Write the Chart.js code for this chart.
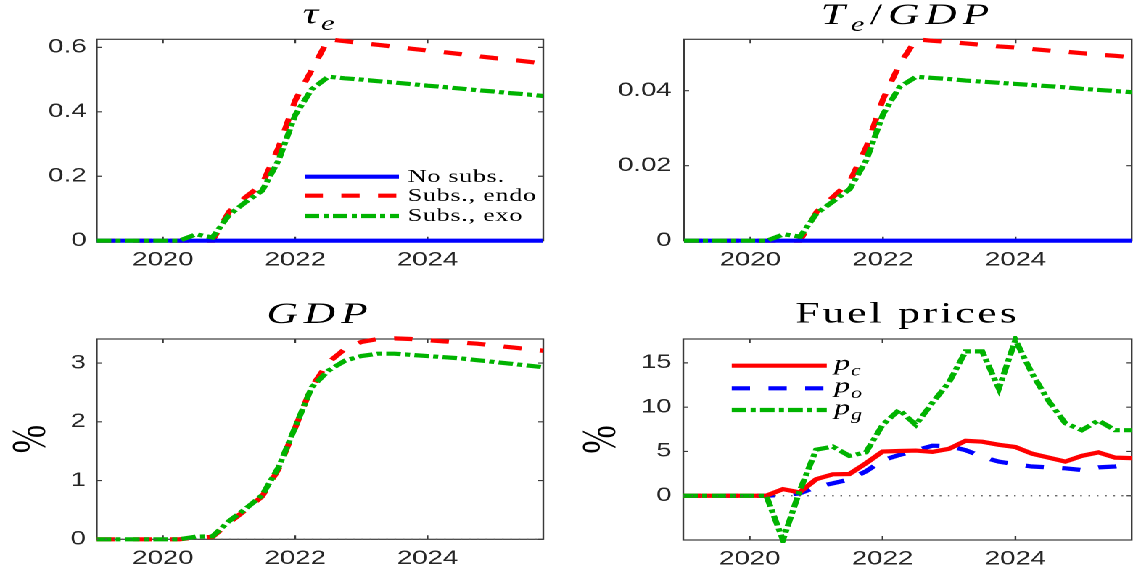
<!DOCTYPE html>
<html>
<head>
<meta charset="utf-8">
<script src="https://cdn.jsdelivr.net/npm/chart.js@4.4.1/dist/chart.umd.min.js"></script>
<style>
  html, body { margin: 0; padding: 0; background: #fff; overflow: hidden; }
  /* the figure is laid out narrow and stretched sideways, like the source image */
  #fig { position: absolute; left: 0; top: 0; width: 781px; height: 571px;
         transform: scaleX(1.4507); transform-origin: 0 0; }
  #fig canvas { position: absolute; }
</style>
</head>
<body>
<div id="fig">
  <canvas id="tauChart" width="390" height="285" style="left:0;top:0"></canvas>
  <canvas id="teChart" width="391" height="285" style="left:390px;top:0"></canvas>
  <canvas id="gdpChart" width="390" height="286" style="left:0;top:285px"></canvas>
  <canvas id="fuelChart" width="391" height="286" style="left:390px;top:285px"></canvas>
</div>
<script>
// quarterly dates, 2019Q1 .. 2025Q4
const quarters = [2019, 2019.25, 2019.5, 2019.75, 2020, 2020.25, 2020.5, 2020.75,
    2021, 2021.25, 2021.5, 2021.75, 2022, 2022.25, 2022.5, 2022.75,
    2023, 2023.25, 2023.5, 2023.75, 2024, 2024.25, 2024.5, 2024.75,
    2025, 2025.25, 2025.5, 2025.75];
const xTicks = [2020, 2022, 2024];

// tau_e
const tauNoSubs = [0,0,0,0,0,0,0,0,0,0,0,0,0,0,0,0,0,0,0,0,0,0,0,0,0,0,0,0];
const tauEndo = [0,0,0,0,0,0,0,0, 0.09,0.135,0.175,0.29,0.435,0.53,0.625,0.619,
    0.613,0.608,0.602,0.596,0.590,0.585,0.579,0.573,0.567,0.562,0.556,0.550];
const tauExo = [0,0,0,0,0,0,0.02,0.01, 0.08,0.12,0.155,0.25,0.39,0.47,0.509,0.504,
    0.500,0.495,0.491,0.486,0.481,0.477,0.472,0.467,0.463,0.458,0.454,0.449];
const tauTicks = [0, 0.2, 0.4, 0.6];

// T_e / GDP
const teNoSubs = [0,0,0,0,0,0,0,0,0,0,0,0,0,0,0,0,0,0,0,0,0,0,0,0,0,0,0,0];
const teEndo = [0,0,0,0,0,0,0,0, 0.0077,0.0117,0.0158,0.025,0.0377,0.047,0.0537,0.0533,
    0.0530,0.0526,0.0522,0.0518,0.0515,0.0511,0.0507,0.0504,0.0500,0.0496,0.0493,0.0489];
const teExo = [0,0,0,0,0,0,0.0017,0.0011, 0.0073,0.0105,0.0138,0.0215,0.0337,0.041,0.0437,0.0434,
    0.0431,0.0427,0.0424,0.0421,0.0418,0.0415,0.0412,0.0409,0.0405,0.0402,0.0399,0.0396];
const teTicks = [0, 0.02, 0.04];

// GDP, %
const gdpEndo = [0,0,0,0,0,0,0.03,0.04, 0.28,0.50,0.73,1.2,1.9,2.6,3.01,3.24,
    3.36,3.41,3.42,3.41,3.39,3.37,3.35,3.33,3.30,3.27,3.24,3.21];
const gdpExo = [0,0,0,0,0,0,0.045,0.05, 0.31,0.52,0.75,1.23,1.91,2.59,2.87,3.04,
    3.12,3.16,3.16,3.14,3.12,3.10,3.08,3.05,3.02,2.99,2.96,2.93];
const gdpTicks = [0, 1, 2, 3];

// fuel prices, %
const pc = [0,0,0,0,0,0,0.75,0.38, 1.86,2.42,2.45,3.67,4.99,5.05,5.1,4.95,
    5.3,6.2,6.1,5.75,5.5,4.75,4.3,3.85,4.5,4.9,4.3,4.25];
const po = [0,0,0,0,0,0,0.1,0.25, 1.0,1.4,1.85,2.75,4.0,4.6,5.1,5.65,
    5.6,5.15,4.4,3.85,3.55,3.3,3.2,3.1,2.9,3.2,3.3,3.5];
const pg = [0,0,0,0,0,0,-5.0,0.5, 5.2,5.55,4.5,4.9,8.0,9.7,8.0,10.5,
    12.8,16.3,16.3,12.1,17.6,13.8,10.7,8.2,7.4,8.5,7.4,7.4];
const fuelTicks = [0, 5, 10, 15];

const zeroLine = [0,0,0,0,0,0,0,0,0,0,0,0,0,0,0,0,0,0,0,0,0,0,0,0,0,0,0,0];

const subsLabels = ['No subs.', 'Subs., endo', 'Subs., exo'];

const RED = '#ff0000', BLUE = '#0000ff', GREEN = '#00b300';
const AXIS = '#3a3a3a', TEXT = '#262626';
const SOLID = [], DASHED = [12.6, 12.7], DASHDOT = [10, 3, 3.5, 3];
const LINE_W = 4.2;

function series(label, values, color, dash, order, width) {
    return {
        label: label,
        data: quarters.map((q, i) => ({ x: q, y: values[i] })),
        borderColor: color,
        borderWidth: width || LINE_W,
        borderDash: dash,
        borderCapStyle: 'butt',
        pointRadius: 0,
        tension: 0,
        fill: false,
        clip: 3,
        order: order
    };
}

// draws a run of text pieces (italic / subscript) centred on cx
function drawRich(ctx, parts, cx, baseline, size, spacing, align) {
    const fontOf = p => (p.it ? 'italic ' : '') + (p.sub ? size * 0.7 : size) + 'px "Liberation Serif"';
    ctx.letterSpacing = spacing + 'px';
    let w = 0;
    parts.forEach(p => { ctx.font = fontOf(p); w += ctx.measureText(p.t).width; });
    let x = align === 'left' ? cx : cx - w / 2;
    ctx.textAlign = 'left';
    ctx.textBaseline = 'alphabetic';
    parts.forEach(p => {
        ctx.font = fontOf(p);
        ctx.fillText(p.t, x, baseline + (p.sub ? size * 0.24 : 0));
        x += ctx.measureText(p.t).width;
    });
    ctx.letterSpacing = '0px';
}

const panelDecor = {
    id: 'panelDecor',
    beforeDatasetsDraw(chart) {
        const { ctx, chartArea: a, scales: { x, y } } = chart;
        ctx.save();
        ctx.strokeStyle = AXIS;
        ctx.lineWidth = 1.2;
        ctx.strokeRect(a.left, a.top, a.width, a.height);
        ctx.beginPath();
        x.ticks.forEach(t => {
            const px = x.getPixelForValue(t.value);
            ctx.moveTo(px, a.bottom); ctx.lineTo(px, a.bottom - 4);
            ctx.moveTo(px, a.top); ctx.lineTo(px, a.top + 4);
        });
        y.ticks.forEach(t => {
            const py = y.getPixelForValue(t.value);
            ctx.moveTo(a.left, py); ctx.lineTo(a.left + 3.5, py);
            ctx.moveTo(a.right, py); ctx.lineTo(a.right - 3.5, py);
        });
        ctx.stroke();
        ctx.restore();
    },
    afterDraw(chart, args, o) {
        const { ctx, chartArea: a } = chart;
        ctx.save();
        ctx.fillStyle = '#000';
        // title
        drawRich(ctx, o.title, (a.left + a.right) / 2, o.titleY, 30, o.titleSpacing);
        // y axis label
        if (o.yLabel) {
            ctx.save();
            ctx.translate(o.yLabelX, (a.top + a.bottom) / 2);
            ctx.rotate(-Math.PI / 2);
            ctx.font = '34px "Liberation Serif"';
            ctx.textAlign = 'center';
            ctx.textBaseline = 'middle';
            ctx.fillText(o.yLabel, 0, 0);
            ctx.restore();
        }
        // legend inside the axes
        if (o.legend) {
            const L = o.legend;
            L.items.forEach((it, i) => {
                const ds = chart.data.datasets[it.ds];
                const yy = L.rows[i];
                ctx.save();
                ctx.strokeStyle = ds.borderColor;
                ctx.lineWidth = ds.borderWidth;
                ctx.setLineDash(ds.borderDash);
                ctx.lineCap = 'butt';
                ctx.beginPath();
                ctx.moveTo(L.x0, yy);
                ctx.lineTo(L.x1, yy);
                ctx.stroke();
                ctx.restore();
                drawRich(ctx, it.text, L.tx, yy + L.dy, L.size, L.spacing, 'left');
            });
        }
        ctx.restore();
    }
};

function makePanel(id, datasets, p) {
    return new Chart(document.getElementById(id), {
        type: 'line',
        data: { datasets: datasets },
        options: {
            responsive: false,
            devicePixelRatio: 2,
            animation: false,
            layout: { padding: { left: 0, top: p.padTop, right: p.padRight, bottom: 0 } },
            plugins: {
                legend: { display: false },
                tooltip: { enabled: false },
                panelDecor: p.decor
            },
            scales: {
                x: {
                    type: 'linear',
                    min: 2019, max: 2025.75,
                    grid: { display: false, drawTicks: false },
                    border: { display: false },
                    afterBuildTicks: s => { s.ticks = xTicks.map(v => ({ value: v })); },
                    afterFit: s => { s.height = p.xHeight; },
                    ticks: {
                        autoSkip: false, maxRotation: 0, padding: 8, color: TEXT,
                        font: { family: 'Liberation Sans', size: 19 },
                        callback: v => String(v)
                    }
                },
                y: {
                    min: p.yMin, max: p.yMax,
                    grid: { display: false, drawTicks: false },
                    border: { display: false },
                    afterBuildTicks: s => { s.ticks = p.yTicks.map(v => ({ value: v })); },
                    afterFit: s => { s.width = p.yWidth; },
                    ticks: {
                        padding: p.yPad, color: TEXT,
                        font: { family: 'Liberation Sans', size: 19 },
                        callback: v => String(v)
                    }
                }
            }
        },
        plugins: [panelDecor]
    });
}

const subsLegend = {
    x0: 210, x1: 275, tx: 281, dy: 5.2, size: 18, spacing: 0.5,
    rows: [176.7, 195.7, 216],
    items: [
        { ds: 0, text: [{ t: subsLabels[0] }] },
        { ds: 1, text: [{ t: subsLabels[1] }] },
        { ds: 2, text: [{ t: subsLabels[2] }] }
    ]
};

makePanel('tauChart', [
    series(subsLabels[0], tauNoSubs, BLUE, SOLID, 2),
    series(subsLabels[1], tauEndo, RED, DASHED, 3),
    series(subsLabels[2], tauExo, GREEN, DASHDOT, 1)
], {
    padTop: 39.3, padRight: 15.5, xHeight: 44.3, yWidth: 66.7, yPad: 7,
    yMin: 0, yMax: 0.625, yTicks: tauTicks,
    decor: {
        title: [{ t: 'τ', it: true }, { t: 'e', it: true, sub: true }],
        titleY: 23, titleSpacing: 2,
        legend: subsLegend
    }
});

makePanel('teChart', [
    series(subsLabels[0], teNoSubs, BLUE, SOLID, 2),
    series(subsLabels[1], teEndo, RED, DASHED, 3),
    series(subsLabels[2], teExo, GREEN, DASHDOT, 1)
], {
    padTop: 39.3, padRight: 0.9, xHeight: 44.3, yWidth: 81.5, yPad: 8.5,
    yMin: 0, yMax: 0.0537, yTicks: teTicks,
    decor: {
        title: [{ t: 'T', it: true }, { t: 'e', it: true, sub: true }, { t: '/' }, { t: 'GDP', it: true }],
        titleY: 24, titleSpacing: 4
    }
});

makePanel('gdpChart', [
    series('Subs., endo', gdpEndo, RED, DASHED, 2),
    series('Subs., exo', gdpExo, GREEN, DASHDOT, 1),
    series('zero', zeroLine, '#555555', [1.2, 4.5], 0, 1.2)
], {
    padTop: 54, padRight: 15.5, xHeight: 31.7, yWidth: 66.7, yPad: 7.5,
    yMin: 0, yMax: 3.41, yTicks: gdpTicks,
    decor: {
        title: [{ t: 'GDP', it: true }],
        titleY: 38, titleSpacing: 4,
        yLabel: '%', yLabelX: 22
    }
});

makePanel('fuelChart', [
    series('p_c', pc, RED, SOLID, 2),
    series('p_o', po, BLUE, DASHED, 3),
    series('p_g', pg, GREEN, DASHDOT, 1),
    series('zero', zeroLine, '#555555', [1.2, 4.5], 0, 1.2)
], {
    padTop: 54, padRight: 0.9, xHeight: 31, yWidth: 81, yPad: 8,
    yMin: -5, yMax: 17.7, yTicks: fuelTicks,
    decor: {
        title: [{ t: 'Fuel prices' }],
        titleY: 37.5, titleSpacing: 2,
        yLabel: '%', yLabelX: 25,
        legend: {
            x0: 114.4, x1: 179.9, tx: 185, dy: 4.3, size: 22, spacing: 0.5,
            rows: [80.7, 103.3, 125],
            items: [
                { ds: 0, text: [{ t: 'p', it: true }, { t: 'c', it: true, sub: true }] },
                { ds: 1, text: [{ t: 'p', it: true }, { t: 'o', it: true, sub: true }] },
                { ds: 2, text: [{ t: 'p', it: true }, { t: 'g', it: true, sub: true }] }
            ]
        }
    }
});
</script>
</body>
</html>
